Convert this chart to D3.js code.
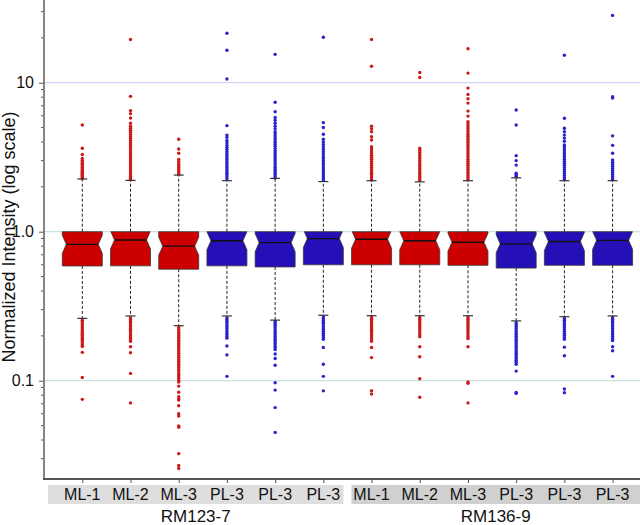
<!DOCTYPE html>
<html><head><meta charset="utf-8">
<script src="https://cdn.jsdelivr.net/npm/d3@7"></script>
<style>body{margin:0;background:#fff}svg{display:block;font-family:"Liberation Sans",Arial,sans-serif}</style>
</head><body><svg id="c" width="640" height="525"></svg>
<script>
const categories = ["ML-1","ML-2","ML-3","PL-3","PL-3","PL-3","ML-1","ML-2","ML-3","PL-3","PL-3","PL-3"];
const groups = ["RM123-7","RM136-9"];
const groupOf = [0,0,0,0,0,0,1,1,1,1,1,1];
const colorKey = ["r","r","r","b","b","b","r","r","r","b","b","b"];
const yTicks = [0.1, 1, 10];
const yTickLabels = ["0.1","1.0","10"];
const q1 = [0.589,0.59,0.56,0.59,0.58,0.60,0.60,0.60,0.595,0.57,0.595,0.595];
const median = [0.823,0.88,0.80,0.87,0.845,0.90,0.89,0.87,0.85,0.83,0.86,0.875];
const q3 = [1,1,1,1,1,1,1,1,1,1,1,1];
const notchLo = [0.716,0.766,0.696,0.757,0.735,0.783,0.775,0.757,0.74,0.722,0.748,0.762];
const notchHi = [0.946,1.011,0.919,1.0,0.971,1.034,1.023,1.0,0.977,0.954,0.988,1.005];
const whiskerLo = [0.262,0.272,0.234,0.272,0.255,0.275,0.273,0.273,0.273,0.252,0.269,0.272];
const whiskerHi = [2.26,2.21,2.40,2.20,2.28,2.17,2.20,2.16,2.20,2.30,2.20,2.20];
const outHi = [
 [5.2,3.63,3.3,3.1,3.0,2.95,2.88,2.82,2.76,2.7,2.65,2.6,2.55,2.5,2.46,2.42,2.38,2.34,2.3,2.27],
 [19.5,8.1,6.5,6.2,5.8,5.35,5.1,4.95,4.8,4.65,4.5,4.36,4.22,4.09,3.96,3.84,3.72,3.6,3.49,3.38,3.28,3.18,3.08,2.99,2.9,2.81,2.72,2.64,2.56,2.48,2.41,2.34,2.27,2.23],
 [4.17,3.59,3.36,3.06,2.96,2.87,2.79,2.71,2.63,2.55,2.48,2.43],
 [21.5,16.5,10.6,5.15,4.45,4.3,4.1,3.95,3.8,3.68,3.57,3.46,3.35,3.25,3.15,3.05,2.96,2.87,2.78,2.7,2.62,2.54,2.47,2.4,2.33,2.26],
 [15.5,7.4,6.38,5.85,5.6,5.35,5.1,4.9,4.69,4.55,4.4,4.26,4.12,3.99,3.86,3.74,3.62,3.5,3.39,3.28,3.18,3.08,2.98,2.89,2.8,2.71,2.63,2.55,2.47,2.4,2.33,2.29],
 [20.2,5.4,5.0,4.51,4.17,4.0,3.85,3.7,3.57,3.44,3.32,3.2,3.1,3.0,2.9,2.81,2.72,2.64,2.56,2.48,2.41,2.34,2.27,2.21],
 [19.5,12.9,5.1,4.9,4.69,4.34,4.13,3.72,3.6,3.48,3.37,3.26,3.16,3.06,2.96,2.87,2.78,2.7,2.62,2.54,2.47,2.4,2.33,2.26,2.22],
 [11.7,10.85,3.63,3.52,3.41,3.3,3.2,3.1,3.0,2.91,2.82,2.73,2.65,2.57,2.49,2.42,2.35,2.28,2.21],
 [16.9,11.6,9.2,8.35,7.8,7.3,6.45,5.97,5.47,5.3,5.13,4.97,4.81,4.66,4.51,4.37,4.23,4.1,3.97,3.84,3.72,3.6,3.49,3.38,3.27,3.17,3.07,2.97,2.88,2.79,2.7,2.62,2.54,2.46,2.38,2.31,2.24],
 [6.56,5.2,3.24,3.0,2.8,2.47,2.42,2.37,2.33],
 [15.3,5.77,4.95,4.69,4.45,4.25,4.05,3.82,3.72,3.6,3.49,3.38,3.27,3.17,3.07,2.97,2.88,2.79,2.7,2.62,2.54,2.46,2.38,2.31,2.24],
 [28.3,8.05,7.9,4.4,3.8,3.36,3.03,2.93,2.84,2.75,2.66,2.58,2.5,2.42,2.35,2.28,2.23]
];
const outLo = [
 [0.255,0.248,0.241,0.234,0.227,0.22,0.214,0.208,0.202,0.196,0.19,0.185,0.179,0.174,0.17,0.155,0.105,0.075],
 [0.265,0.258,0.251,0.244,0.237,0.23,0.224,0.218,0.212,0.206,0.2,0.195,0.189,0.184,0.169,0.154,0.112,0.071],
 [0.228,0.221,0.214,0.208,0.202,0.196,0.19,0.184,0.178,0.173,0.168,0.163,0.158,0.153,0.148,0.144,0.139,0.135,0.131,0.127,0.123,0.119,0.116,0.112,0.109,0.106,0.103,0.1,0.098,0.092,0.0836,0.078,0.0754,0.0742,0.068,0.06,0.058,0.0497,0.0487,0.0324,0.027,0.0258],
 [0.265,0.258,0.251,0.244,0.237,0.23,0.223,0.216,0.21,0.204,0.198,0.193,0.171,0.149,0.107],
 [0.25,0.243,0.236,0.229,0.222,0.216,0.21,0.204,0.198,0.192,0.187,0.182,0.177,0.172,0.167,0.162,0.151,0.141,0.127,0.097,0.0865,0.066,0.045],
 [0.268,0.261,0.254,0.247,0.24,0.233,0.226,0.22,0.214,0.208,0.202,0.196,0.19,0.167,0.129,0.107,0.0855],
 [0.266,0.259,0.252,0.245,0.238,0.231,0.224,0.218,0.212,0.206,0.2,0.194,0.188,0.184,0.167,0.143,0.0858,0.0815],
 [0.266,0.259,0.252,0.245,0.238,0.231,0.224,0.217,0.21,0.203,0.197,0.169,0.145,0.103,0.0774],
 [0.266,0.259,0.252,0.245,0.238,0.231,0.224,0.217,0.21,0.203,0.197,0.192,0.169,0.098,0.096,0.071],
 [0.245,0.238,0.231,0.224,0.217,0.211,0.205,0.199,0.193,0.187,0.182,0.177,0.172,0.167,0.162,0.157,0.153,0.149,0.145,0.141,0.137,0.133,0.129,0.116,0.0834,0.0822],
 [0.262,0.255,0.248,0.241,0.234,0.227,0.22,0.214,0.208,0.202,0.196,0.19,0.168,0.147,0.088,0.083],
 [0.265,0.258,0.251,0.244,0.237,0.23,0.223,0.216,0.21,0.204,0.198,0.192,0.186,0.169,0.159,0.107]
];

const boxFill = {r:"#cc0000", b:"#2510b8"};
const dotFill = {r:"#cc1a1a", b:"#2a22cc"};

const svg = d3.select("#c");
const axisX = 44, axisBottom = 479, W = 640;
const y = d3.scaleLog().domain([0.0219, 35.9]).range([axisBottom, 0]);
const idx = d3.range(categories.length);
const x = d3.scalePoint().domain(idx).range([82.3, 612.6]);
const bw = 40, hw = bw/2, indent = 4;

// group bands
const step = x.step();
const bandRanges = [[axisX+4, x(5)+step/2-4],[x(6)-step/2+4, W]];
groups.forEach((g,gi)=>{
  const [a,b] = bandRanges[gi];
  svg.append("rect").attr("x",a).attr("y",485).attr("width",b-a).attr("height",19)
    .attr("fill", gi===0 ? "#dedede" : "#d0d0d0");
  svg.append("text").attr("x",(a+b)/2).attr("y",522).attr("text-anchor","middle")
    .attr("font-size",17).attr("fill","#111").text(g);
});
svg.selectAll("text.cat").data(idx).join("text").attr("class","cat")
  .attr("x",i=>x(i)).attr("y",500).attr("text-anchor","middle")
  .attr("font-size",16).attr("fill","#111").text(i=>categories[i]);

// gridlines
const gridColor = {10:"#d4d4fa",1:"#c9e2e2",0.1:"#c9e2e2"};
yTicks.forEach(t=>{
  svg.append("line").attr("x1",axisX).attr("x2",W).attr("y1",y(t)).attr("y2",y(t))
    .attr("stroke",gridColor[t]).attr("stroke-width",1.3);
});

// whiskers
const g = svg.append("g");
idx.forEach(i=>{
  const cx = x(i);
  g.append("line").attr("x1",cx).attr("x2",cx).attr("y1",y(q3[i])).attr("y2",y(whiskerHi[i]))
    .attr("stroke","#222").attr("stroke-dasharray","3,2").attr("stroke-width",1);
  g.append("line").attr("x1",cx).attr("x2",cx).attr("y1",y(q1[i])).attr("y2",y(whiskerLo[i]))
    .attr("stroke","#222").attr("stroke-dasharray","3,2").attr("stroke-width",1);
});
// outliers
idx.forEach(i=>{
  const pts = outHi[i].concat(outLo[i]);
  g.selectAll(null).data(pts).join("circle").attr("cx",x(i)).attr("cy",d=>y(d))
    .attr("r",1.7).attr("fill",dotFill[colorKey[i]]);
});
// caps
idx.forEach(i=>{
  const cx = x(i);
  [whiskerHi[i], whiskerLo[i]].forEach(v=>{
    g.append("line").attr("x1",cx-5).attr("x2",cx+5).attr("y1",y(v)).attr("y2",y(v))
      .attr("stroke","#333").attr("stroke-width",1.2);
  });
});
// notched boxes
function halfWidthAt(yy, ym, yn){
  const d = Math.abs(yy-ym), dn = Math.abs(yn-ym);
  if (d >= dn) return hw;
  return hw - indent*(1 - d/dn);
}
idx.forEach(i=>{
  const cx = x(i);
  const yq3 = y(q3[i]), yq1 = y(q1[i]), ym = y(median[i]);
  const ynh = y(notchHi[i]), ynl = y(notchLo[i]);
  const pts = [];
  const topHW = halfWidthAt(yq3, ym, ynh);
  pts.push([cx-topHW, yq3],[cx+topHW, yq3]);
  if (ynh > yq3) pts.push([cx+hw, ynh]);
  pts.push([cx+hw-indent, ym]);
  pts.push([cx+hw, Math.min(ynl,yq1)]);
  pts.push([cx+hw, yq1],[cx-hw, yq1]);
  pts.push([cx-hw, Math.min(ynl,yq1)]);
  pts.push([cx-hw+indent, ym]);
  if (ynh > yq3) pts.push([cx-hw, ynh]);
  g.append("path").attr("d", d3.line()(pts)+"Z").attr("fill",boxFill[colorKey[i]])
    .attr("stroke","#3a3a3a").attr("stroke-width",0.8);
  g.append("line").attr("x1",cx-hw+indent).attr("x2",cx+hw-indent).attr("y1",ym).attr("y2",ym)
    .attr("stroke","#111").attr("stroke-width",1.3);
});

// y axis
const minorTicks = y.ticks().filter(t=>!yTicks.some(m=>Math.abs(m-t)/m<1e-6));
const yAxis = d3.axisLeft(y).tickValues(yTicks).tickFormat((d,i)=>yTickLabels[i]).tickSize(5).tickPadding(5);
const ya = svg.append("g").attr("transform",`translate(${axisX},0)`).call(yAxis);
ya.selectAll("text").attr("font-size",16).attr("fill","#111").attr("font-family","Liberation Sans, Arial, sans-serif");
ya.select(".domain").remove();
ya.selectAll(".tick line").attr("stroke","#555");
svg.append("g").attr("transform",`translate(${axisX},0)`)
  .selectAll("line").data(minorTicks).join("line")
  .attr("x1",-3).attr("x2",0).attr("y1",d=>y(d)).attr("y2",d=>y(d)).attr("stroke","#555");
svg.append("line").attr("x1",axisX).attr("x2",axisX).attr("y1",0).attr("y2",axisBottom+0.5)
  .attr("stroke","#777").attr("stroke-width",1.8);
// x axis
const xAxis = d3.axisBottom(x).tickSize(4).tickFormat("");
const xa = svg.append("g").attr("transform",`translate(0,${axisBottom})`).call(xAxis);
xa.select(".domain").remove();
xa.selectAll(".tick line").attr("stroke","#555");
svg.append("line").attr("x1",axisX-1).attr("x2",W).attr("y1",axisBottom).attr("y2",axisBottom)
  .attr("stroke","#555").attr("stroke-width",1.8);

// y title
svg.append("text").attr("transform",`translate(15,237) rotate(-90)`)
  .attr("text-anchor","middle").attr("font-size",18).attr("fill","#111")
  .text("Normalized Intensity (log scale)");
</script></body></html>
